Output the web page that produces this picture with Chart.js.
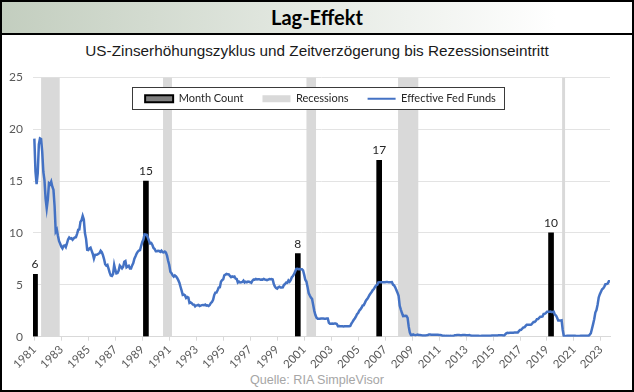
<!DOCTYPE html>
<html lang="de">
<head>
<meta charset="utf-8">
<title>Lag-Effekt</title>
<script src="https://cdn.jsdelivr.net/npm/chart.js@4.4.0/dist/chart.umd.min.js"></script>
<style>
html, body { margin: 0; padding: 0; background: #fff; }
#frame { position: relative; box-sizing: border-box; width: 634px; height: 392px; border: 2px solid #000; overflow: hidden; }
#head { height: 31px; border-bottom: 2px solid #000; background: linear-gradient(to right, #c3cebf, #ffffff 88%);
        text-align: center; font: bold 20px Lato, sans-serif; line-height: 31px; color: #000; }
#sub { position: absolute; top: 40px; left: 0; width: 100%; text-align: center; font: 15.3px "Liberation Sans", Arial, sans-serif; color: #1a1a1a; }
#wrap { position: absolute; left: -2px; top: 58px; width: 634px; height: 310px; }
#src { position: absolute; top: 371px; left: 0; width: 100%; text-align: center; font: 12.6px "Liberation Sans", Arial, sans-serif; color: #a6a6a6; }
</style>
</head>
<body>
<div id="frame">
  <div id="head">Lag-Effekt</div>
  <div id="sub">US-Zinserhöhungszyklus und Zeitverzögerung bis Rezessionseintritt</div>
  <div id="wrap"><canvas id="myChart" width="634" height="310"></canvas></div>
  <div id="src">Quelle: RIA SimpleVisor</div>
</div>

<script>

// month count bars (position in years, value)
var countYears = [1981.05, 1989.27, 2000.53, 2006.56, 2019.3];
var monthCount = [6, 15, 8, 17, 10];

// recessions (start / end in years)
var recStart = [1981.5, 1990.54, 2001.17, 2007.96, 2020.12];
var recEnd   = [1982.88, 1991.2, 2001.88, 2009.46, 2020.34];

// effective fed funds, monthly from Jan 1981
var fedStartYear = 1981;
var fedFunds = [
  19.08, 15.93, 14.70, 15.72, 18.52, 19.10, 19.04, 17.82, 15.87, 15.08, 13.31, 12.37,
  13.22, 14.78, 14.68, 14.94, 14.45, 14.15, 12.59, 10.12, 10.31, 9.71, 9.20, 8.95,
  8.68, 8.51, 8.77, 8.80, 8.63, 8.98, 9.37, 9.56, 9.45, 9.48, 9.34, 9.47,
  9.56, 9.59, 9.91, 10.29, 10.32, 11.06, 11.23, 11.64, 11.30, 9.99, 9.43, 8.38,
  8.35, 8.50, 8.58, 8.27, 7.97, 7.53, 7.88, 7.90, 7.92, 7.99, 8.05, 8.27,
  8.14, 7.86, 7.48, 6.99, 6.85, 6.92, 6.56, 6.17, 5.89, 5.85, 6.04, 6.91,
  6.43, 6.10, 6.13, 6.37, 6.85, 6.73, 6.58, 6.73, 7.22, 7.29, 6.69, 6.77,
  6.83, 6.58, 6.58, 6.87, 7.09, 7.51, 7.75, 8.01, 8.19, 8.30, 8.35, 8.76,
  9.12, 9.36, 9.85, 9.84, 9.81, 9.53, 9.24, 8.99, 9.02, 8.84, 8.55, 8.45,
  8.23, 8.24, 8.28, 8.26, 8.18, 8.29, 8.15, 8.13, 8.20, 8.11, 7.81, 7.31,
  6.91, 6.25, 6.12, 5.91, 5.78, 5.90, 5.82, 5.66, 5.45, 5.21, 4.81, 4.43,
  4.03, 4.06, 3.98, 3.73, 3.82, 3.76, 3.25, 3.30, 3.22, 3.10, 3.09, 2.92,
  3.02, 3.03, 3.07, 2.96, 3.00, 3.04, 3.06, 3.03, 3.09, 2.99, 3.02, 2.96,
  3.05, 3.25, 3.34, 3.56, 4.01, 4.25, 4.26, 4.47, 4.73, 4.76, 5.29, 5.45,
  5.53, 5.92, 5.98, 6.05, 6.01, 6.00, 5.85, 5.74, 5.80, 5.76, 5.80, 5.60,
  5.56, 5.22, 5.31, 5.22, 5.24, 5.27, 5.40, 5.22, 5.30, 5.24, 5.31, 5.29,
  5.25, 5.19, 5.39, 5.51, 5.50, 5.56, 5.52, 5.54, 5.54, 5.50, 5.52, 5.50,
  5.56, 5.51, 5.49, 5.45, 5.49, 5.56, 5.54, 5.55, 5.51, 5.07, 4.83, 4.68,
  4.63, 4.76, 4.81, 4.74, 4.74, 4.76, 4.99, 5.07, 5.22, 5.20, 5.42, 5.30,
  5.45, 5.73, 5.85, 6.02, 6.27, 6.53, 6.54, 6.50, 6.52, 6.51, 6.51, 6.40,
  5.98, 5.49, 5.31, 4.80, 4.21, 3.97, 3.77, 3.65, 3.07, 2.49, 2.09, 1.82,
  1.73, 1.74, 1.73, 1.75, 1.75, 1.75, 1.73, 1.74, 1.75, 1.75, 1.34, 1.24,
  1.24, 1.26, 1.25, 1.26, 1.26, 1.22, 1.01, 1.03, 1.01, 1.01, 1.00, 0.98,
  1.00, 1.01, 1.00, 1.00, 1.00, 1.03, 1.26, 1.43, 1.61, 1.76, 1.93, 2.16,
  2.28, 2.50, 2.63, 2.79, 3.00, 3.04, 3.26, 3.50, 3.62, 3.78, 4.00, 4.16,
  4.29, 4.49, 4.59, 4.79, 4.94, 4.99, 5.24, 5.25, 5.25, 5.25, 5.25, 5.24,
  5.25, 5.26, 5.26, 5.25, 5.25, 5.25, 5.26, 5.02, 4.94, 4.76, 4.49, 4.24,
  3.94, 2.98, 2.61, 2.28, 1.98, 2.00, 2.01, 2.00, 1.81, 0.97, 0.39, 0.16,
  0.15, 0.22, 0.18, 0.15, 0.18, 0.21, 0.16, 0.16, 0.15, 0.12, 0.12, 0.12,
  0.11, 0.13, 0.16, 0.20, 0.20, 0.18, 0.18, 0.19, 0.19, 0.19, 0.19, 0.18,
  0.17, 0.16, 0.14, 0.10, 0.09, 0.09, 0.07, 0.10, 0.08, 0.07, 0.08, 0.07,
  0.08, 0.10, 0.13, 0.14, 0.16, 0.16, 0.16, 0.13, 0.14, 0.16, 0.16, 0.16,
  0.14, 0.15, 0.14, 0.15, 0.11, 0.09, 0.09, 0.08, 0.08, 0.09, 0.08, 0.09,
  0.07, 0.07, 0.08, 0.09, 0.09, 0.10, 0.09, 0.09, 0.09, 0.09, 0.09, 0.12,
  0.11, 0.11, 0.11, 0.12, 0.12, 0.13, 0.13, 0.14, 0.14, 0.12, 0.12, 0.24,
  0.34, 0.38, 0.36, 0.37, 0.37, 0.38, 0.39, 0.40, 0.40, 0.40, 0.41, 0.54,
  0.65, 0.66, 0.79, 0.90, 0.91, 1.04, 1.15, 1.16, 1.15, 1.15, 1.16, 1.30,
  1.41, 1.42, 1.51, 1.69, 1.70, 1.82, 1.91, 1.91, 1.95, 2.19, 2.20, 2.27,
  2.40, 2.40, 2.41, 2.42, 2.39, 2.38, 2.40, 2.13, 2.04, 1.83, 1.55, 1.55,
  1.55, 1.58, 0.65, 0.05, 0.05, 0.08, 0.09, 0.10, 0.09, 0.09, 0.09, 0.09,
  0.09, 0.08, 0.07, 0.07, 0.06, 0.08, 0.10, 0.09, 0.08, 0.08, 0.08, 0.08,
  0.08, 0.08, 0.20, 0.33, 0.77, 1.21, 1.68, 2.33, 2.56, 3.08, 3.78, 4.10,
  4.33, 4.57, 4.65, 4.83, 5.06, 5.08, 5.12, 5.33, 5.33
];

var yearTicks = [1981, 1983, 1985, 1987, 1989, 1991, 1993, 1995, 1997, 1999, 2001,
                 2003, 2005, 2007, 2009, 2011, 2013, 2015, 2017, 2019, 2021, 2023];
var xMin = 1980.9, xMax = 2023.67;
var yMax = 25;


// build points for the chart
var fedPoints = fedFunds.map(function(v, i){ return {x: fedStartYear + i / 12, y: v}; });
var countPoints = countYears.map(function(x, i){ return {x: x, y: monthCount[i]}; });
var recPoints = [{x: xMin, y: 0}];
for (var i = 0; i < recStart.length; i++) {
    recPoints.push({x: recStart[i], y: yMax});
    recPoints.push({x: recEnd[i], y: 0});
}
recPoints.push({x: xMax, y: 0});

var legendLook = [
    {fillStyle: '#808080', strokeStyle: '#000000', lineWidth: 2, pointStyle: 'rect'},
    {fillStyle: '#d9d9d9', strokeStyle: '#d9d9d9', lineWidth: 0, pointStyle: 'rect'},
    {fillStyle: '#4472c4', strokeStyle: '#4472c4', lineWidth: 2, pointStyle: 'line'}
];

// legend inside the plot, laid out in one row
var legendRow = {
    id: 'legendRow',
    afterInit: function(chart) {
        if (chart.legend) chart.legend.isHorizontal = function(){ return true; };
    },
    afterLayout: function(chart) {
        var lg = chart.legend, area = chart.chartArea;
        if (!lg) return;
        lg.left = area.left - 1;
        lg.right = area.right - 1;
        lg.top = area.top - 3;
    }
};

// labels on top of the black bars + legend box
var barLabels = {
    id: 'barLabels',
    afterDatasetsDraw: function(chart) {
        var ctx = chart.ctx;
        var meta = chart.getDatasetMeta(0);
        ctx.save();
        ctx.font = '12px Lato';
        ctx.fillStyle = '#262626';
        ctx.textAlign = 'center';
        ctx.textBaseline = 'alphabetic';
        meta.data.forEach(function(bar, i){
            ctx.fillText(String(monthCount[i]), bar.x, bar.y - 6);
        });

        var boxes = chart.legend.legendHitBoxes;
        if (boxes && boxes.length) {
            var last = boxes[boxes.length - 1];
            var l = boxes[0].left - 13;
            var r = last.left + last.width + 8;
            var t = boxes[0].top - 6;
            var b = boxes[0].top + boxes[0].height + 5;
            ctx.fillStyle = '#ffffff';
            ctx.fillRect(l, t, r - l, b - t);
            ctx.strokeStyle = '#3a3a3a';
            ctx.lineWidth = 1;
            ctx.strokeRect(Math.round(l) + 0.5, Math.round(t) + 0.5, Math.round(r - l), Math.round(b - t));
        }
        ctx.restore();
        chart.legend.draw();
    }
};


var ctx = document.getElementById("myChart");
var myChart = new Chart(ctx, {
    type: 'line',
    data: {
        datasets: [{
            type: 'bar',
            label: 'Month Count',
            data: countPoints,
            backgroundColor: '#000000',
            barThickness: 5,
            order: 1
        }, {
            type: 'line',
            label: 'Recessions',
            data: recPoints,
            stepped: true,
            fill: 'origin',
            backgroundColor: '#d9d9d9',
            borderWidth: 0,
            pointRadius: 0,
            order: 2
        }, {
            type: 'line',
            label: 'Effective Fed Funds',
            data: fedPoints,
            borderColor: '#4472c4',
            borderWidth: 2.5,
            pointRadius: 0,
            tension: 0,
            fill: false,
            order: 0
        }]
    },
    options: {
        responsive: false,
        animation: false,
        events: [],
        layout: { padding: { top: 14, right: 24, left: 0, bottom: 0 } },
        plugins: {
            tooltip: { enabled: false },
            legend: {
                position: 'chartArea',
                align: 'center',
                labels: {
                    usePointStyle: true,
                    pointStyleWidth: 28,
                    boxHeight: 7,
                    padding: 19,
                    color: '#262626',
                    font: { family: 'Lato', size: 11 },
                    generateLabels: function(chart) {
                        return chart.data.datasets.map(function(ds, i){
                            var look = legendLook[i];
                            return {
                                text: ds.label, datasetIndex: i, hidden: false,
                                fillStyle: look.fillStyle, strokeStyle: look.strokeStyle,
                                lineWidth: look.lineWidth, pointStyle: look.pointStyle,
                                fontColor: '#262626'
                            };
                        });
                    }
                }
            }
        },
        scales: {
            x: {
                type: 'linear',
                offset: false,
                min: xMin,
                max: xMax,
                afterBuildTicks: function(scale){
                    scale.ticks = yearTicks.map(function(v){ return {value: v}; });
                },
                afterFit: function(scale){ scale.height = 33.3; },
                ticks: {
                    autoSkip: false,
                    minRotation: 45,
                    maxRotation: 45,
                    padding: 2,
                    color: '#595959',
                    font: { family: 'Lato', size: 11.5 },
                    callback: function(v){ return String(v); }
                },
                grid: { offset: false, drawOnChartArea: false, tickLength: 4, color: '#d9d9d9' },
                border: { color: '#d9d9d9', width: 1 }
            },
            y: {
                min: 0,
                max: yMax,
                afterFit: function(scale){ scale.width = 33; },
                ticks: {
                    stepSize: 5,
                    padding: 10,
                    color: '#595959',
                    font: { family: 'Lato', size: 12 }
                },
                grid: { color: '#e3e3e3', drawTicks: false },
                border: { display: false }
            }
        }
    },
    plugins: [legendRow, barLabels]
});

</script>
</body>
</html>
